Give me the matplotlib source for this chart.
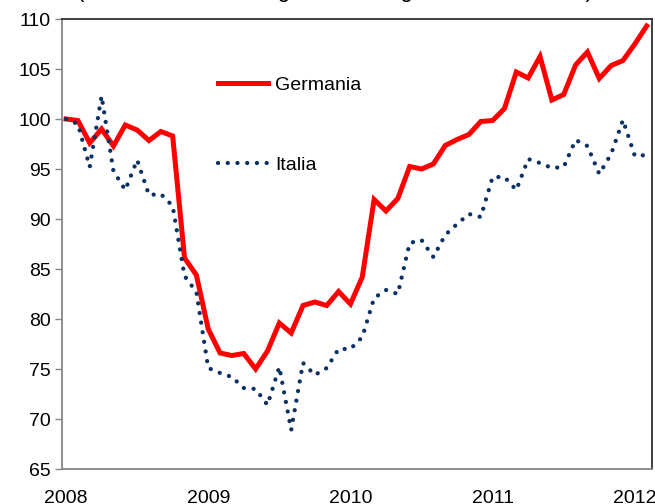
import matplotlib
matplotlib.use("Agg")
import matplotlib.pyplot as plt
import numpy as np

# monthly index, Jan 2008 = 100 (Jan 2008 .. Feb 2012)
germania = [100.0, 99.85, 97.6, 99.0, 97.3, 99.4, 98.9, 97.85, 98.75, 98.3,
            86.1, 84.4, 79.0, 76.6, 76.35, 76.55, 75.0, 76.8, 79.6, 78.6,
            81.35, 81.7, 81.35, 82.75, 81.5, 84.2, 91.95, 90.8, 92.05, 95.25,
            95.0, 95.5, 97.35, 97.95, 98.45, 99.75, 99.85, 101.05, 104.7, 104.1,
            106.25, 101.9, 102.45, 105.4, 106.7, 104.05, 105.35, 105.85, 107.5, 109.3]
italia = [100.0, 99.5, 95.2, 102.3, 94.8, 92.9, 95.9, 92.4, 92.5, 91.3,
          84.3, 82.7, 75.1, 74.6, 74.2, 73.1, 73.0, 71.4, 75.2, 68.9,
          75.6, 74.4, 75.1, 77.0, 77.0, 78.2, 82.1, 82.9, 82.5, 87.6,
          87.9, 86.2, 88.4, 89.5, 90.5, 90.2, 94.2, 94.2, 92.9, 96.0,
          95.6, 95.1, 95.2, 97.9, 97.3, 94.5, 96.5, 99.9, 96.3, 96.4]
year_labels = ["2008", "2009", "2010", "2011", "2012"]
year_pos = [0, 12, 24, 36, 48]
y_ticks = [65, 70, 75, 80, 85, 90, 95, 100, 105, 110]

plt.rcParams["font.family"] = ["Liberation Sans", "DejaVu Sans"]

fig = plt.figure(figsize=(6.55, 5.04), dpi=100)
ax = fig.add_axes([62 / 655, 1 - 469 / 504, 590 / 655, 450 / 504])

x = np.arange(len(germania))
ax.plot(x, germania, color="#ff0000", lw=3.6, solid_joinstyle="miter",
        label="Germania")
ax.plot(x, italia, color="#0b3163", lw=3.1, linestyle=(0, (0.01, 2.25)),
        dash_capstyle="round", label="Italia")

ax.set_xlim(-0.34, 49.45)
ax.set_ylim(65, 110)
ax.set_yticks(y_ticks)
ax.set_xticks(year_pos)
ax.set_xticklabels(year_labels)
ax.tick_params(axis="y", length=5, width=1, color="#868686", labelsize=14, pad=3)
ax.tick_params(axis="x", length=0, labelsize=14, pad=15)

for side in ("left", "bottom"):
    ax.spines[side].set_color("#868686")
    ax.spines[side].set_linewidth(1.3)
for side in ("top", "right"):
    ax.spines[side].set_color("#303030")
    ax.spines[side].set_linewidth(1.3)

ax.legend(loc="upper left", bbox_to_anchor=(0.264, 0.872), frameon=False,
          fontsize=14, handlelength=2.6, handletextpad=0.35, labelspacing=3.2,
          borderpad=0, borderaxespad=0)

# title line cropped at the top edge of the image
fig.text(335 / 655, 1.0 + 3.5 / 504,
         "(numeri indice destagionalizzati, gennaio 2008=100)",
         ha="center", va="baseline", fontsize=16)

fig.savefig("out.png", dpi=100)
